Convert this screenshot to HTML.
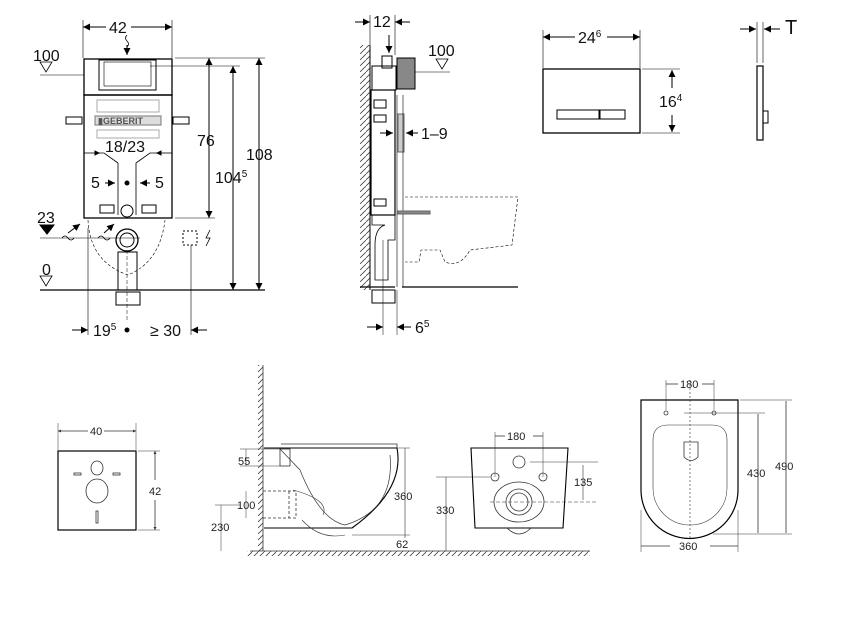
<!DOCTYPE html>
<html><head><meta charset="utf-8"><style>
html,body{margin:0;padding:0;background:#fff;}
svg{display:block;font-family:"Liberation Sans",sans-serif;}
.t{font-size:16px;fill:#111}
.s{font-size:11px;fill:#222}
</style></head><body>
<svg width="851" height="630" viewBox="0 0 851 630" xmlns="http://www.w3.org/2000/svg">
<defs>
<marker id="a" viewBox="0 0 10 10" refX="10" refY="5" markerWidth="7" markerHeight="7" orient="auto-start-reverse"><path d="M0,0L10,5L0,10z" fill="#000"/></marker>
<marker id="b" viewBox="0 0 10 10" refX="10" refY="5" markerWidth="4" markerHeight="4" orient="auto-start-reverse"><path d="M0,0L10,5L0,10z" fill="#333"/></marker>
<pattern id="h" width="6" height="6" patternUnits="userSpaceOnUse"><path d="M0,6L6,0" stroke="#444" stroke-width="0.8"/></pattern>
</defs>
<g stroke="#000" fill="none" stroke-width="1">
<!-- LEFT FRAME -->
<line x1="83" y1="20" x2="83" y2="58" stroke-width="0.6"/><line x1="172" y1="20" x2="172" y2="58" stroke-width="0.6"/>
<line x1="83" y1="27" x2="106" y2="27" marker-start="url(#a)"/><line x1="131" y1="27" x2="172" y2="27" marker-end="url(#a)"/>
<path d="M127,35 q-3,3 0,6 q3,3 0,6" stroke-width="0.8"/><line x1="127" y1="45" x2="127" y2="55" marker-end="url(#a)"/>
<rect x="84" y="59" width="88" height="36" stroke-width="1.3"/>
<rect x="99" y="60" width="57" height="30"/><rect x="104" y="62" width="47" height="24" stroke-width="0.6"/>
<rect x="84" y="95" width="88" height="123" stroke-width="1.3"/>
<rect x="97" y="100" width="62" height="12" stroke="#aaa"/><rect x="97" y="130" width="62" height="8" stroke="#aaa"/>
<rect x="66" y="117" width="16" height="7"/><rect x="173" y="117" width="16" height="7"/>
<rect x="95" y="116" width="66" height="9" fill="#ddd" stroke="#777"/>
<path d="M95,153 H104 L118,163 V215 M160,153 H150 L136,163 V215" stroke-width="0.8"/>
<line x1="84" y1="153" x2="100" y2="153" marker-end="url(#a)" stroke-width="0.8"/><line x1="172" y1="153" x2="156" y2="153" marker-end="url(#a)" stroke-width="0.8"/>
<line x1="105" y1="183" x2="115" y2="183" marker-end="url(#a)"/><line x1="150" y1="183" x2="140" y2="183" marker-end="url(#a)"/>
<circle cx="127" cy="183" r="2" fill="#000"/>
<circle cx="127" cy="211" r="6"/><rect x="100" y="205" width="14" height="8"/><rect x="142" y="205" width="14" height="8"/>
<line x1="40" y1="75" x2="84" y2="75" stroke-width="0.6"/><path d="M40,62 H52 L46,72z" stroke-width="0.8"/>
<line x1="175" y1="58" x2="265" y2="58" stroke-width="0.6"/><line x1="150" y1="66" x2="240" y2="66" stroke-width="0.6"/>
<line x1="175" y1="218" x2="215" y2="218" stroke-width="0.6"/>
<line x1="209" y1="58" x2="209" y2="218" marker-start="url(#a)" marker-end="url(#a)"/>
<line x1="233" y1="66" x2="233" y2="290" marker-start="url(#a)" marker-end="url(#a)"/>
<line x1="259" y1="58" x2="259" y2="290" marker-start="url(#a)" marker-end="url(#a)"/>
<path d="M40,225 H54 L47,234z" fill="#000"/><line x1="40" y1="238" x2="140" y2="238" stroke-width="0.6"/>
<path d="M62,238 q3,-4 6,0 q3,4 6,0" stroke-width="0.8"/><line x1="68" y1="233" x2="80" y2="224" marker-end="url(#a)"/>
<path d="M98,238 q3,-4 6,0 q3,4 6,0" stroke-width="0.8"/><line x1="104" y1="233" x2="114" y2="224" marker-end="url(#a)"/>
<path d="M88,220 Q90,262 128,275 Q160,262 165,220" stroke-dasharray="3,2" stroke-width="0.6"/>
<circle cx="127" cy="240" r="11" stroke-width="1.3"/><circle cx="127" cy="240" r="7"/>
<rect x="118" y="252" width="19" height="38"/><rect x="116" y="292" width="24" height="13"/>
<line x1="40" y1="290" x2="265" y2="290" stroke-width="1.2"/>
<path d="M40,276 H52 L46,286z" stroke-width="0.8"/>
<rect x="183" y="231" width="14" height="14" stroke-dasharray="2,2"/><path d="M210,230 l-4,8 h4 l-4,8" stroke-width="0.8"/>
<line x1="88" y1="228" x2="88" y2="335" stroke-width="0.6"/><line x1="127" y1="250" x2="127" y2="320" stroke-width="0.5" stroke-dasharray="4,2"/>
<line x1="191" y1="245" x2="191" y2="335" stroke-width="0.6"/>
<line x1="72" y1="330" x2="88" y2="330" marker-end="url(#a)"/><line x1="207" y1="330" x2="191" y2="330" marker-end="url(#a)"/>
<circle cx="127" cy="330" r="2" fill="#000"/>
<!-- SIDE FRAME -->
<rect x="360" y="45" width="10" height="245" fill="url(#h)" stroke="none"/><line x1="370" y1="45" x2="370" y2="290"/>
<line x1="370" y1="15" x2="370" y2="45" stroke-width="0.6"/><line x1="395" y1="15" x2="395" y2="55" stroke-width="0.6"/>
<line x1="355" y1="22" x2="370" y2="22" marker-end="url(#a)"/><line x1="410" y1="22" x2="395" y2="22" marker-end="url(#a)"/>
<line x1="389" y1="35" x2="389" y2="53" marker-end="url(#a)"/>
<rect x="372" y="66" width="24" height="24"/><rect x="382" y="56" width="10" height="12"/>
<rect x="397" y="58" width="18" height="31" fill="#888"/>
<line x1="415" y1="72" x2="450" y2="72" stroke-width="0.6"/><path d="M436,59 H448 L442,69z" stroke-width="0.8"/>
<rect x="371" y="90" width="24" height="125" stroke-width="1.2"/>
<rect x="374" y="100" width="12" height="8"/><rect x="374" y="115" width="12" height="7"/><rect x="374" y="199" width="12" height="7"/>
<rect x="398" y="114" width="6" height="38" fill="#ccc" stroke="#666"/>
<line x1="380" y1="133" x2="393" y2="133" marker-end="url(#a)"/><line x1="418" y1="133" x2="406" y2="133" marker-end="url(#a)"/>
<line x1="397" y1="95" x2="397" y2="287" stroke-width="0.6"/><line x1="403" y1="95" x2="403" y2="287" stroke-width="0.6"/>
<path d="M405,197 H518 L512,245 L470,250 Q460,268 445,262 L440,250 H421 L419,262 H405" stroke-dasharray="3,2" stroke-width="0.6"/>
<rect x="398" y="211" width="32" height="3" fill="#888" stroke="#666"/>
<path d="M372,215 H395 V240 H388 V280 H375 V245 Q375,228 385,225 H372z" stroke-width="0.8"/>
<rect x="372" y="290" width="23" height="13"/>
<line x1="360" y1="287" x2="395" y2="287" stroke-width="1.2"/><line x1="402" y1="287" x2="518" y2="287" stroke-width="1.2"/>
<line x1="383" y1="240" x2="383" y2="335" stroke-width="0.5"/><line x1="397" y1="290" x2="397" y2="335" stroke-width="0.5"/>
<line x1="367" y1="327" x2="383" y2="327" marker-end="url(#a)"/><line x1="411" y1="327" x2="397" y2="327" marker-end="url(#a)"/>
<!-- FLUSH PLATE -->
<line x1="543" y1="30" x2="543" y2="68" stroke-width="0.6"/><line x1="640" y1="30" x2="640" y2="68" stroke-width="0.6"/>
<line x1="543" y1="37" x2="575" y2="37" marker-start="url(#a)"/><line x1="607" y1="37" x2="640" y2="37" marker-end="url(#a)"/>
<rect x="543" y="69" width="97" height="64" stroke-width="1.3"/>
<rect x="557" y="110" width="42" height="9"/><rect x="600" y="110" width="25" height="9"/>
<line x1="642" y1="69" x2="680" y2="69" stroke-width="0.6"/><line x1="642" y1="133" x2="680" y2="133" stroke-width="0.6"/>
<line x1="672" y1="70" x2="672" y2="88" marker-start="url(#a)"/><line x1="672" y1="115" x2="672" y2="132" marker-end="url(#a)"/>
<line x1="757" y1="22" x2="757" y2="63" stroke-width="0.6"/><line x1="763" y1="22" x2="763" y2="63" stroke-width="0.6"/>
<line x1="740" y1="29" x2="756" y2="29" marker-end="url(#a)"/><line x1="780" y1="29" x2="764" y2="29" marker-end="url(#a)"/>
<rect x="757" y="66" width="6" height="74" stroke-width="1.2"/><rect x="763" y="111" width="5" height="12"/>
</g>
<g class="t">
<text x="109" y="33">42</text><text x="33" y="61">100</text><text x="197" y="146">76</text><text x="215" y="183">104<tspan font-size="10" dy="-6">5</tspan></text>
<text x="246" y="160">108</text><text x="105" y="152">18/23</text><text x="91" y="188">5</text><text x="155" y="188">5</text>
<text x="37" y="223">23</text><text x="42" y="275">0</text><text x="93" y="336">19<tspan font-size="10" dy="-6">5</tspan></text><text x="150" y="336">≥ 30</text>
<text x="373" y="27">12</text><text x="428" y="56">100</text><text x="421" y="139">1–9</text><text x="415" y="333">6<tspan font-size="10" dy="-6">5</tspan></text>
<text x="578" y="43">24<tspan font-size="10" dy="-6">6</tspan></text><text x="659" y="107" style="paint-order:stroke;stroke:#fff;stroke-width:4px">16<tspan font-size="10" dy="-6">4</tspan></text>
<text x="785" y="34" font-size="20">T</text>
</g>
<!-- BOTTOM -->
<g stroke="#333" fill="none" stroke-width="0.8">
<line x1="58" y1="423" x2="58" y2="450" stroke-width="0.5"/><line x1="136" y1="423" x2="136" y2="450" stroke-width="0.5"/>
<line x1="58" y1="431" x2="88" y2="431" marker-start="url(#b)"/><line x1="104" y1="431" x2="136" y2="431" marker-end="url(#b)"/>
<rect x="58" y="451" width="78" height="79" stroke="#000" stroke-width="1.2"/>
<ellipse cx="97" cy="468" rx="6" ry="7"/><ellipse cx="97" cy="491" rx="11" ry="12"/>
<rect x="74" y="473" width="7" height="2"/><rect x="113" y="473" width="7" height="2"/><rect x="96" y="511" width="2" height="12"/>
<line x1="138" y1="451" x2="160" y2="451" stroke-width="0.5"/><line x1="138" y1="530" x2="160" y2="530" stroke-width="0.5"/>
<line x1="155" y1="451" x2="155" y2="480" marker-start="url(#b)"/><line x1="155" y1="500" x2="155" y2="530" marker-end="url(#b)"/>
<rect x="258" y="365" width="5" height="186" fill="url(#h)" stroke="none"/><line x1="263" y1="365" x2="263" y2="551"/>
<rect x="247" y="551" width="343" height="5" fill="url(#h)" stroke="none"/><line x1="250" y1="551" x2="590" y2="551"/>
<path d="M281,444 H397 V448" /><path d="M264,448 H397 Q405,490 352,528 H264" stroke="#000" stroke-width="1.1"/>
<path d="M280,449 L300,470 Q320,520 345,525 Q395,510 390,455" stroke-width="0.7"/>
<path d="M293,490 Q330,500 323,515 M302,520 Q320,540 345,535" stroke-width="0.6"/>
<rect x="280" y="449" width="10" height="17"/>
<line x1="240" y1="449" x2="280" y2="449" stroke-width="0.5"/><line x1="240" y1="466" x2="280" y2="466" stroke-width="0.5"/>
<line x1="246" y1="449" x2="246" y2="466" stroke-width="0.5"/>
<path d="M263,491 H296 V518 H263 M289,491 V518" stroke-dasharray="3,2"/>
<line x1="246" y1="491" x2="246" y2="518" stroke-width="0.5"/>
<line x1="221" y1="505" x2="221" y2="551" stroke-width="0.5"/><line x1="215" y1="505" x2="240" y2="505" stroke-width="0.5"/>
<line x1="398" y1="448" x2="410" y2="448" stroke-width="0.5"/><line x1="405" y1="448" x2="405" y2="538" stroke-width="0.6"/>
<line x1="352" y1="535" x2="410" y2="535" stroke-width="0.5"/>
<path d="M471,448 H568 L563,528 H475z" stroke="#000" stroke-width="1.1"/>
<line x1="495" y1="432" x2="495" y2="477" stroke-width="0.5"/><line x1="543" y1="432" x2="543" y2="477" stroke-width="0.5"/>
<line x1="495" y1="436" x2="505" y2="436"/><line x1="533" y1="436" x2="543" y2="436"/>
<circle cx="519" cy="462" r="6"/><circle cx="495" cy="477" r="4"/><circle cx="543" cy="477" r="4"/>
<ellipse cx="519" cy="502" rx="25" ry="20"/><circle cx="519" cy="502" r="13"/><circle cx="519" cy="502" r="9"/>
<path d="M507,528 Q519,540 531,528"/>
<line x1="530" y1="462" x2="598" y2="462" stroke-width="0.5"/><line x1="490" y1="502" x2="598" y2="502" stroke-width="0.5" stroke-dasharray="4,2"/>
<line x1="583" y1="465" x2="583" y2="500" stroke-width="0.6"/>
<line x1="436" y1="477" x2="490" y2="477" stroke-width="0.5"/><line x1="446" y1="477" x2="446" y2="551" stroke-width="0.6"/>
<path d="M641,400 H738 V490 A48.5,48.5 0 0 1 641,490z" stroke="#000" stroke-width="1.2"/>
<path d="M668,425 Q653,425 653,440 V488 A37,37 0 0 0 727,488 V440 Q727,425 712,425z" stroke-width="0.6"/>
<path d="M684,442 H698 V457 Q691,464 684,457z"/>
<line x1="690" y1="380" x2="690" y2="540" stroke-dasharray="2,2" stroke-width="0.6"/>
<circle cx="666" cy="413" r="2"/><circle cx="714" cy="413" r="2"/>
<line x1="666" y1="380" x2="666" y2="410" stroke-width="0.5"/><line x1="714" y1="380" x2="714" y2="410" stroke-width="0.5"/>
<line x1="666" y1="384" x2="678" y2="384"/><line x1="702" y1="384" x2="714" y2="384"/>
<line x1="684" y1="413" x2="765" y2="413" stroke-width="0.5"/><line x1="740" y1="400" x2="792" y2="400" stroke-width="0.5"/>
<line x1="713" y1="534" x2="792" y2="534" stroke-width="0.5"/>
<line x1="758" y1="414" x2="758" y2="533"/><line x1="786" y1="401" x2="786" y2="533"/>
<line x1="641" y1="510" x2="641" y2="552" stroke-width="0.5"/><line x1="738" y1="510" x2="738" y2="552" stroke-width="0.5"/>
<line x1="641" y1="546" x2="670" y2="546"/><line x1="710" y1="546" x2="738" y2="546"/>
</g>
<g class="s">
<text x="90" y="435">40</text><text x="149" y="495">42</text>
<text x="238" y="465">55</text><text x="237" y="509">100</text><text x="211" y="531">230</text><text x="396" y="548">62</text>
<text x="394" y="500">360</text><text x="507" y="440">180</text><text x="574" y="486">135</text><text x="436" y="514">330</text>
<text x="680" y="388">180</text><text x="747" y="477">430</text><text x="775" y="470">490</text><text x="679" y="550">360</text>
</g>
<g font-family="Liberation Sans,sans-serif" font-size="9" font-weight="bold" fill="#555"><text x="98" y="124">▮GEBERIT</text></g>
</svg>
</body></html>
